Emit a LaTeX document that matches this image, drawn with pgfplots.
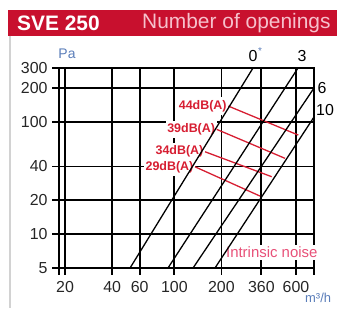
\documentclass[border=0pt]{standalone}
\usepackage{pgfplots}
\pgfplotsset{compat=1.18}
\usepackage{fontspec}
\setmainfont{Liberation Sans}
\definecolor{barred}{RGB}{200,16,46}
\definecolor{pinktxt}{RGB}{246,192,204}
\definecolor{lblred}{RGB}{215,30,50}
\definecolor{noisered}{RGB}{232,80,120}
\definecolor{unitblue}{RGB}{90,125,185}
\begin{document}
\begin{tikzpicture}
\useasboundingbox (0,0) rectangle (337bp,311bp);
\fill[barred] (8bp,275bp) rectangle (337bp,301bp);
\node[anchor=west, inner sep=0, text=white, font=\fontsize{21}{24}\selectfont\bfseries] at (17bp,288bp) {SVE 250};
\node[anchor=west, inner sep=0, text=pinktxt, font=\fontsize{21}{24}\selectfont] at (142bp,288bp) {Number of openings};
\draw[gray!35, line width=1.2bp] (10bp,275bp) -- (10bp,3bp);
\begin{axis}[
 at={(59bp,43bp)}, anchor=south west, scale only axis, width=255bp, height=200bp,
 xmode=log, ymode=log, xmin=18.3, xmax=782, ymin=5, ymax=300,
 xtick={20,40,60,100,200,360,600}, xticklabels={20,40,60,100,200,360,600},
 ytick={5,10,20,40,100,200,300}, yticklabels={5,10,20,40,100,200,300},
 extra x ticks={18.3,782}, extra x tick labels={},
 xminorticks=false, yminorticks=false,
 grid=major, major grid style={black, line width=1.7bp},
 axis line style={black, line width=1.7bp},
 tick pos=left, tick align=outside, major tick length=7bp,
 tick style={black, line width=1.7bp},
 ticklabel style={font=\fontsize{16}{18}\selectfont, text=black!85},
 xticklabel style={yshift=-3bp},
 yticklabel style={xshift=-1bp},
 clip=false,
]
% noise labels
\node[anchor=east, fill=white, inner xsep=1.5bp, inner ysep=3bp, text=lblred, font=\fontsize{12.5}{14}\selectfont\bfseries] at (axis cs:221.4,137.6) {44dB(A)};
\node[anchor=east, fill=white, inner xsep=1.5bp, inner ysep=3bp, text=lblred, font=\fontsize{12.5}{14}\selectfont\bfseries] at (axis cs:186.7,85.4) {39dB(A)};
\node[anchor=east, fill=white, inner xsep=1.5bp, inner ysep=3bp, text=lblred, font=\fontsize{12.5}{14}\selectfont\bfseries] at (axis cs:157.1,54.0) {34dB(A)};
\node[anchor=east, fill=white, inner xsep=1.5bp, inner ysep=3bp, text=lblred, font=\fontsize{12.5}{14}\selectfont\bfseries] at (axis cs:135.6,39.7) {29dB(A)};
\node[fill=white, inner xsep=2bp, inner ysep=2bp, text=noisered, font=\fontsize{15}{18}\selectfont] at (axis cs:420,6.9) {Intrinsic noise};
% noise lines
\addplot[lblred, line width=1.3bp] coordinates {(221.4,137.6) (620.5,76.0)};
\addplot[lblred, line width=1.3bp] coordinates {(186.7,85.4) (510.3,47.2)};
\addplot[lblred, line width=1.3bp] coordinates {(157.1,54.0) (419.5,32.4)};
\addplot[lblred, line width=1.3bp] coordinates {(135.6,39.7) (353.2,21.8)};
% system curves
\addplot[black, line width=1.3bp] coordinates {(52.1,5) (318.5,300)};
\addplot[black, line width=1.3bp] coordinates {(91.1,5) (618,300)};
\addplot[black, line width=1.3bp] coordinates {(131.7,5) (782,199)};
\addplot[black, line width=1.3bp] coordinates {(182,5) (782,110)};
\end{axis}
\node[font=\fontsize{16}{18}\selectfont] at (253bp,255bp) {0};
\node[text=unitblue, font=\fontsize{10}{12}\selectfont] at (260bp,260bp) {*};
\node[font=\fontsize{16}{18}\selectfont] at (302bp,255bp) {3};
\node[font=\fontsize{16}{18}\selectfont] at (322bp,223bp) {6};
\node[font=\fontsize{16}{18}\selectfont] at (325bp,201bp) {10};
\node[text=unitblue, font=\fontsize{14}{16}\selectfont] at (67bp,257bp) {Pa};
\node[anchor=west, inner sep=0, text=unitblue, font=\fontsize{13}{15}\selectfont] at (305bp,13bp) {m³/h};
\end{tikzpicture}
\end{document}
